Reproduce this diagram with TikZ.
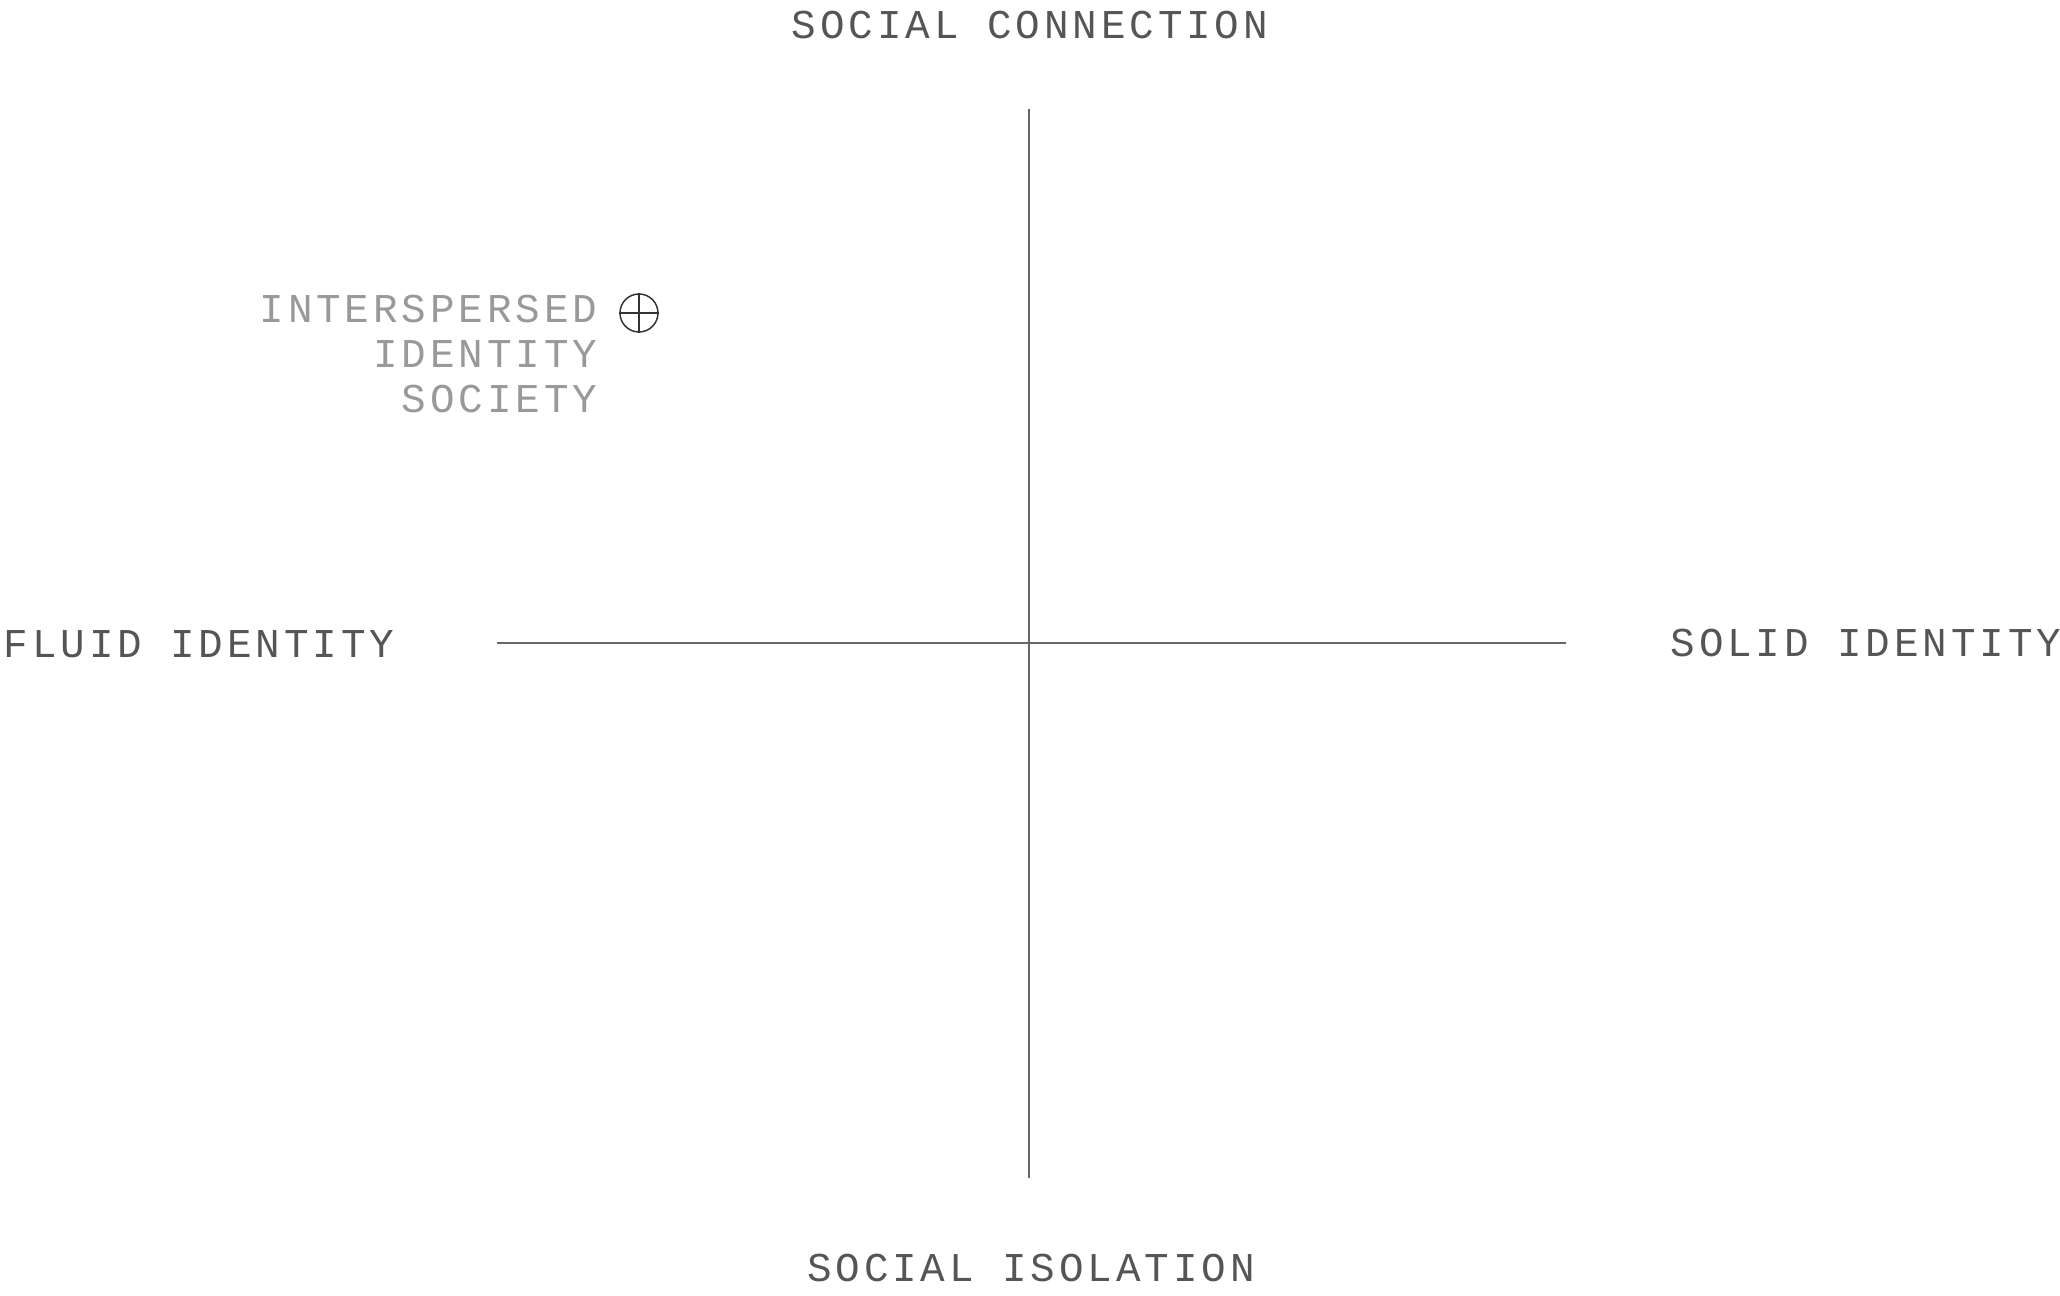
\documentclass[tikz,border=0pt]{standalone}
\usepackage{fontspec}
\setmonofont{Liberation Mono}[LetterSpace=9.5]
\definecolor{axisgray}{HTML}{555555}
\definecolor{linegray}{HTML}{666666}
\definecolor{notegray}{HTML}{999999}
\definecolor{markgray}{HTML}{333333}
\tikzset{
    axisline/.style={draw=linegray, line width=0.42pt},
    axislabel/.style={font=\ttfamily\fontsize{11.65}{12.94}\selectfont, text=axisgray, inner sep=0pt},
    notelabel/.style={axislabel, text=notegray, align=right},
    crossmark/.style={circle, draw=markgray, line width=0.42pt, minimum size=0.38cm, inner sep=0pt}
}
\begin{document}
\begin{tikzpicture}
    \useasboundingbox (-10.29,6.43) rectangle (10.31,-6.53);
    % axes
    \coordinate (top)    at (0,5.34);
    \coordinate (bottom) at (0,-5.35);
    \coordinate (left)   at (-5.32,0);
    \coordinate (right)  at (5.37,0);
    \draw[axisline] (top) -- (bottom);
    \draw[axisline] (left) -- (right);
    % axis labels
    \node[axislabel, anchor=base]      (connection) at (0.01,6.04)    {SOCIAL CONNECTION};
    \node[axislabel, anchor=base]      (isolation)  at (0.02,-6.39)   {SOCIAL ISOLATION};
    \node[axislabel, anchor=base west] (fluid)      at (-10.26,-0.15) {FLUID IDENTITY};
    \node[axislabel, anchor=base east] (solid)      at (10.33,-0.14)  {SOLID IDENTITY};
    % plotted society
    \node[crossmark] (society) at (-3.90,3.30) {};
    \draw[markgray, line width=0.42pt] (society.north) -- (society.south);
    \draw[markgray, line width=0.42pt] (society.west) -- (society.east);
    \node[notelabel, anchor=base east] (societylabel) at (-4.31,2.30) {INTERSPERSED\\IDENTITY\\SOCIETY};
\end{tikzpicture}
\end{document}
